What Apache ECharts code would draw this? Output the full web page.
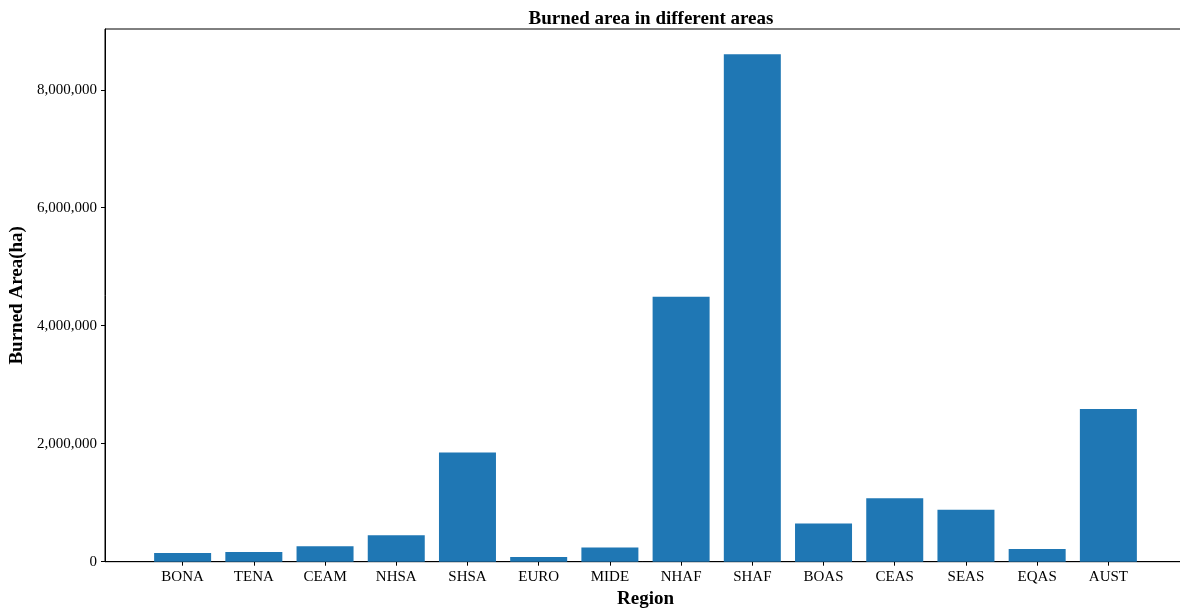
<!DOCTYPE html>
<html>
<head>
<meta charset="utf-8">
<script src="https://cdn.jsdelivr.net/npm/echarts@6/dist/echarts.min.js"></script>
<style>
html,body{margin:0;padding:0;background:#fff;}
#chart{width:1180px;height:608px;}
</style>
</head>
<body>
<div id="chart"></div>
<script>
const categories = ['BONA','TENA','CEAM','NHSA','SHSA','EURO','MIDE','NHAF','SHAF','BOAS','CEAS','SEAS','EQAS','AUST'];
const burnedArea = [146000, 163000, 261000, 447000, 1850000, 78000, 242000, 4490000, 8600000, 647000, 1075000, 881000, 215000, 2590000];
const yTicks = [0, 2000000, 4000000, 6000000, 8000000];

const FONT = "'Liberation Serif', 'Times New Roman', serif";
const fmt = v => String(v).replace(/\B(?=(\d{3})+(?!\d))/g, ',');
const xIdx = categories.map((c, i) => i);

const chart = echarts.init(document.getElementById('chart'), null, {renderer: 'canvas'});
chart.setOption({
  animation: false,
  backgroundColor: '#fff',
  title: {
    text: 'Burned area in different areas',
    left: 646,
    textAlign: 'center',
    top: 5,
    textStyle: {fontFamily: FONT, fontWeight: 'bold', fontSize: 19, color: '#000'}
  },
  grid: {
    left: 105, top: 29, width: 1081, height: 532.7,
    outerBoundsMode: 'none',
    containLabel: false,
    show: true, borderColor: '#000', borderWidth: 1, backgroundColor: 'transparent'
  },
  xAxis: {
    type: 'value',
    min: -1.09, max: 14.09,
    name: 'Region',
    nameLocation: 'middle',
    nameGap: 27,
    nameTextStyle: {fontFamily: FONT, fontWeight: 'bold', fontSize: 19, color: '#000'},
    axisLine: {show: true, onZero: false, lineStyle: {color: '#000', width: 1}},
    axisTick: {show: true, length: 4, customValues: xIdx, lineStyle: {color: '#000'}},
    axisLabel: {
      customValues: xIdx, margin: 8,
      fontFamily: FONT, fontSize: 15, color: '#000',
      formatter: v => categories[Math.round(v)] || ''
    },
    splitLine: {show: false}
  },
  yAxis: {
    type: 'value',
    min: 0, max: 9030000,
    name: 'Burned Area(ha)',
    nameLocation: 'middle',
    nameGap: 78,
    nameTextStyle: {fontFamily: FONT, fontWeight: 'bold', fontSize: 19, color: '#000'},
    axisLine: {show: true, onZero: false, lineStyle: {color: '#000', width: 1}},
    axisTick: {show: true, length: 4, customValues: yTicks, lineStyle: {color: '#000'}},
    axisLabel: {
      customValues: yTicks, margin: 8,
      fontFamily: FONT, fontSize: 15, color: '#000',
      formatter: v => fmt(v)
    },
    splitLine: {show: false}
  },
  series: [{
    type: 'bar',
    data: burnedArea.map((v, i) => [i, v]),
    barWidth: 57,
    itemStyle: {color: '#1f77b4'}
  }]
});
</script>
</body>
</html>
